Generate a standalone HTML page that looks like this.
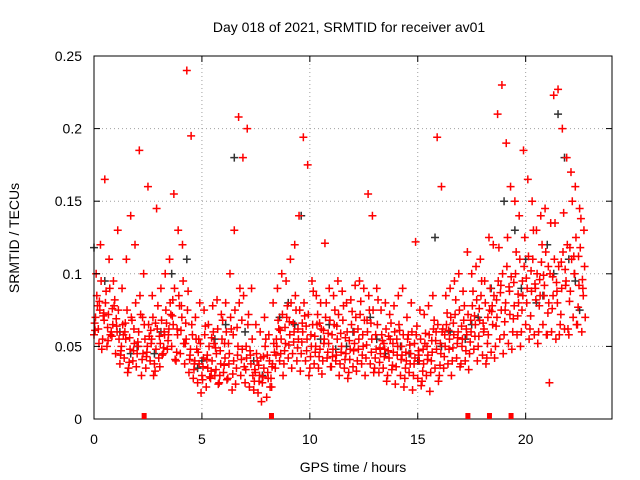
<!DOCTYPE html>
<html><head><meta charset="utf-8"><style>
html,body{margin:0;padding:0;background:#fff;width:640px;height:480px;overflow:hidden}
text{font-family:"Liberation Sans",sans-serif;fill:#000}
</style></head><body>
<svg id="chart" width="640" height="480" xmlns="http://www.w3.org/2000/svg">
<text x="349" y="32" font-size="14" text-anchor="middle">Day 018 of 2021, SRMTID for receiver av01</text>
<text x="353" y="472" font-size="14" text-anchor="middle">GPS time / hours</text>
<text x="19" y="238" font-size="14" text-anchor="middle" transform="rotate(-90 19 238)">SRMTID / TECUs</text>
<g id="grid"></g><g id="pts"></g><g id="axes"></g>
</svg>
<script>
const xTicks=[0,5,10,15,20];
const yTicks=[0,0.05,0.1,0.15,0.2,0.25];
const yTickLabels=["0","0.05","0.1","0.15","0.2","0.25"];
const redHours=[0,0.2,0.4,0.6,0.8,1.0,1.2,1.4,1.6,1.8,2.0,2.2,2.4,2.6,2.8,3.0,3.2,3.4,3.6,3.8,4.0,4.2,4.4,4.6,4.8,5.0,5.2,5.4,5.6,5.8,6.0,6.2,6.4,6.6,6.8,7.0,7.2,7.4,7.6,7.8,8.0,8.2,8.4,8.6,8.8,9.0,9.2,9.4,9.6,9.8,10.0,10.2,10.4,10.6,10.8,11.0,11.2,11.4,11.6,11.8,12.0,12.2,12.4,12.6,12.8,13.0,13.2,13.4,13.6,13.8,14.0,14.2,14.4,14.6,14.8,15.0,15.2,15.4,15.6,15.8,16.0,16.2,16.4,16.6,16.8,17.0,17.2,17.4,17.6,17.8,18.0,18.2,18.4,18.6,18.8,19.0,19.2,19.4,19.6,19.8,20.0,20.2,20.4,20.6,20.8,21.0,21.2,21.4,21.6,21.8,22.0,22.2,22.4,22.6];
const redTecA=[.058,.062,.055,.050,.060,.045,.038,.042,.035,.040,.045,.030,.035,.040,.038,.042,.045,.048,.050,.040,.045,.038,.032,.028,.025,.030,.022,.028,.030,.025,.032,.028,.020,.035,.030,.025,.022,.020,.018,.025,.015,.028,.035,.040,.038,.042,.045,.040,.045,.040,.035,.038,.035,.040,.042,.036,.040,.038,.035,.032,.036,.040,.038,.042,.038,.035,.032,.035,.030,.034,.036,.030,.028,.032,.030,.028,.026,.030,.032,.035,.030,.035,.038,.040,.042,.038,.040,.045,.048,.050,.044,.042,.046,.050,.055,.058,.052,.060,.058,.060,.065,.062,.058,.060,.065,.058,.060,.055,.065,.062,.058,.070,.065,.060];
const redTecB=[.070,.075,.068,.072,.065,.060,.050,.055,.048,.052,.060,.045,.050,.055,.048,.052,.058,.062,.065,.058,.070,.055,.048,.040,.038,.042,.035,.040,.045,.038,.042,.045,.040,.050,.048,.042,.038,.032,.030,.035,.028,.038,.050,.055,.052,.058,.060,.055,.060,.055,.050,.050,.048,.055,.052,.048,.055,.050,.045,.048,.052,.055,.050,.060,.055,.048,.045,.048,.042,.046,.050,.044,.040,.045,.042,.040,.038,.044,.046,.048,.045,.050,.055,.058,.060,.055,.058,.060,.065,.068,.062,.058,.065,.070,.075,.080,.072,.078,.080,.085,.090,.088,.082,.085,.092,.080,.085,.080,.090,.095,.088,.100,.092,.085];
const redTecC=[.085,.095,.080,.090,.078,.075,.065,.075,.070,.080,.085,.065,.065,.070,.062,.068,.075,.080,.090,.085,.095,.075,.065,.055,.052,.058,.050,.060,.062,.055,.060,.070,.075,.080,.085,.065,.055,.045,.042,.050,.040,.052,.068,.072,.070,.080,.085,.075,.080,.072,.065,.065,.062,.070,.068,.065,.072,.068,.060,.065,.070,.072,.068,.085,.075,.065,.058,.062,.055,.060,.065,.058,.055,.060,.058,.055,.052,.058,.062,.065,.060,.065,.070,.072,.075,.068,.072,.078,.082,.085,.080,.075,.085,.095,.100,.105,.098,.100,.110,.105,.112,.110,.100,.108,.115,.100,.110,.105,.115,.120,.110,.125,.118,.105];
const redTecD=[.100,.120,.165,.110,.095,.130,.090,.110,.140,.120,.185,.100,.160,.085,.145,.090,.100,.110,.155,.130,.120,.240,.195,.070,.080,.075,.065,.078,.082,.072,.080,.100,.130,.208,.180,.200,.090,.065,.060,.070,.058,.080,.090,.100,.095,.110,.120,.140,.194,.175,.095,.085,.080,.121,.090,.085,.095,.088,.080,.082,.092,.095,.090,.155,.140,.090,.075,.080,.072,.078,.085,.090,.070,.080,.122,.075,.072,.078,.085,.194,.160,.085,.090,.095,.100,.088,.115,.100,.105,.110,.095,.125,.120,.210,.230,.190,.160,.150,.140,.185,.165,.150,.130,.140,.145,.025,.223,.227,.200,.180,.170,.160,.145,.130];
const redTecE=[.066,.052,.071,.063,.057,.069,.044,.060,.039,.047,.053,.041,.043,.061,.033,.057,.049,.054,.071,.046,.061,.052,.041,.034,.046,.027,.041,.033,.049,.030,.037,.052,.031,.063,.041,.034,.047,.026,.037,.029,.044,.022,.044,.061,.047,.051,.066,.049,.053,.064,.043,.057,.043,.061,.046,.058,.044,.059,.041,.054,.047,.062,.044,.051,.066,.042,.039,.052,.047,.037,.055,.041,.035,.051,.038,.047,.033,.050,.040,.054,.037,.043,.061,.049,.052,.064,.047,.053,.071,.057,.066,.052,.074,.064,.087,.067,.091,.069,.071,.075,.097,.071,.093,.078,.099,.073,.076,.094,.072,.103,.081,.112,.077,.096];
const redTecF=[.078,.048,.088,.058,.082,.055,.058,.032,.068,.036,.072,.055,.057,.030,.078,.044,.066,.072,.041,.078,.052,.088,.058,.048,.018,.064,.029,.052,.024,.068,.027,.062,.024,.090,.036,.072,.030,.040,.012,.055,.022,.046,.062,.030,.078,.035,.075,.033,.071,.030,.088,.072,.031,.080,.036,.075,.030,.078,.028,.074,.033,.081,.030,.075,.032,.082,.054,.026,.066,.024,.061,.022,.058,.020,.064,.023,.059,.019,.068,.026,.062,.073,.030,.082,.036,.078,.034,.088,.040,.095,.038,.090,.042,.118,.045,.125,.048,.115,.050,.125,.055,.130,.052,.120,.058,.135,.135,.058,.142,.062,.150,.065,.138,.070];
const redTecG=[.061,.081,.073,.054,.076,.064,.047,.066,.056,.062,.050,.070,.046,.052,.066,.036,.060,.058,.082,.062,.078,.066,.044,.038,.055,.036,.044,.056,.034,.047,.052,.038,.058,.044,.068,.050,.044,.034,.026,.043,.032,.036,.055,.045,.063,.067,.053,.062,.066,.047,.058,.046,.066,.052,.059,.043,.064,.046,.056,.041,.060,.048,.058,.068,.046,.058,.049,.043,.057,.052,.044,.050,.046,.038,.052,.044,.048,.041,.054,.060,.052,.058,.048,.066,.056,.050,.062,.068,.057,.076,.060,.070,.078,.082,.092,.075,.088,.094,.086,.095,.080,.102,.090,.096,.085,.105,.098,.088,.108,.092,.118,.100,.112,.090];
const blackHours=[0,0.5,1.2,2.0,2.8,3.6,4.3,5.0,5.6,6.5,7.0,7.8,8.6,9.3,9.6,10.5,11.2,12.0,12.8,13.5,14.2,15.0,15.8,16.5,17.2,17.8,18.4,19.0,19.5,20.0,20.5,21.0,21.5,21.8,22.0,22.3,1.7,3.1,4.8,6.1,7.4,9.0,10.9,11.7,13.1,14.6,16.1,17.5,19.8,20.8,21.3,22.5];
const blackTec=[.118,.095,.060,.050,.045,.100,.110,.040,.055,.180,.060,.030,.070,.065,.140,.055,.048,.060,.070,.045,.050,.040,.125,.060,.055,.070,.090,.150,.130,.110,.080,.120,.210,.180,.110,.095,.045,.060,.035,.065,.040,.080,.065,.050,.055,.045,.050,.065,.090,.085,.100,.075];
const gapHours=[2.3,8.2,17.3,18.3,19.3];

const L=94,R=612,T=56,B=419,XMAX=24,YMAX=0.25;
const sx=h=>L+(R-L)*h/XMAX, sy=v=>B-(B-T)*v/YMAX;
const NS="http://www.w3.org/2000/svg";
function mk(tag,attrs,parent){const e=document.createElementNS(NS,tag);for(const k in attrs)e.setAttribute(k,attrs[k]);parent.appendChild(e);return e;}
const grid=document.getElementById('grid'),pts=document.getElementById('pts'),axes=document.getElementById('axes');
xTicks.forEach(t=>{const x=sx(t);
 if(t>0){const g=mk('line',{x1:x,y1:T,x2:x,y2:B,stroke:'#a0a0a0','stroke-dasharray':'1,3'},grid);
 
 }
 mk('line',{x1:x,y1:B,x2:x,y2:B-6,stroke:'#000'},axes);mk('line',{x1:x,y1:T,x2:x,y2:T+6,stroke:'#000'},axes);
 const tx=mk('text',{x:x,y:B+25,'font-size':14,'text-anchor':'middle'},axes);tx.textContent=t;
 
 
});
yTicks.forEach((t,i)=>{const y=sy(t);
 if(t>0&&t<YMAX){const g=mk('line',{x1:L,y1:y,x2:R,y2:y,stroke:'#a0a0a0','stroke-dasharray':'1,3'},grid);
 
 }
 mk('line',{x1:L,y1:y,x2:L+6,y2:y,stroke:'#000'},axes);mk('line',{x1:R,y1:y,x2:R-6,y2:y,stroke:'#000'},axes);
 const tx=mk('text',{x:L-12,y:y+5,'font-size':14,'text-anchor':'end'},axes);tx.textContent=yTickLabels[i];
 
 
});
const frame=mk('rect',{x:L,y:T,width:R-L,height:B-T,fill:'none',stroke:'#000'},axes);


function plus(h,v,col){const x=sx(h),y=sy(v);
 const p=mk('path',{d:`M${x-4},${y}h8M${x},${y-4}v8`,stroke:col,'stroke-width':1.5,fill:'none'},pts);
 
 }
blackHours.forEach((h,i)=>plus(h,blackTec[i],'#333'));
const redSeries=[redTecA,redTecB,redTecC,redTecD,redTecE,redTecF,redTecG];
const seriesOffsets=[0,0.07,0.13,0.1,0.03,0.16,0.05];
redSeries.forEach((arr,s)=>redHours.forEach((h,i)=>plus(h+seriesOffsets[s],arr[i],'#f00')));
gapHours.forEach(h=>{const r=mk('rect',{x:sx(h)-2,y:B-6,width:5,height:6,fill:'#f00'},axes);
 
 });
</script>
</body></html>
